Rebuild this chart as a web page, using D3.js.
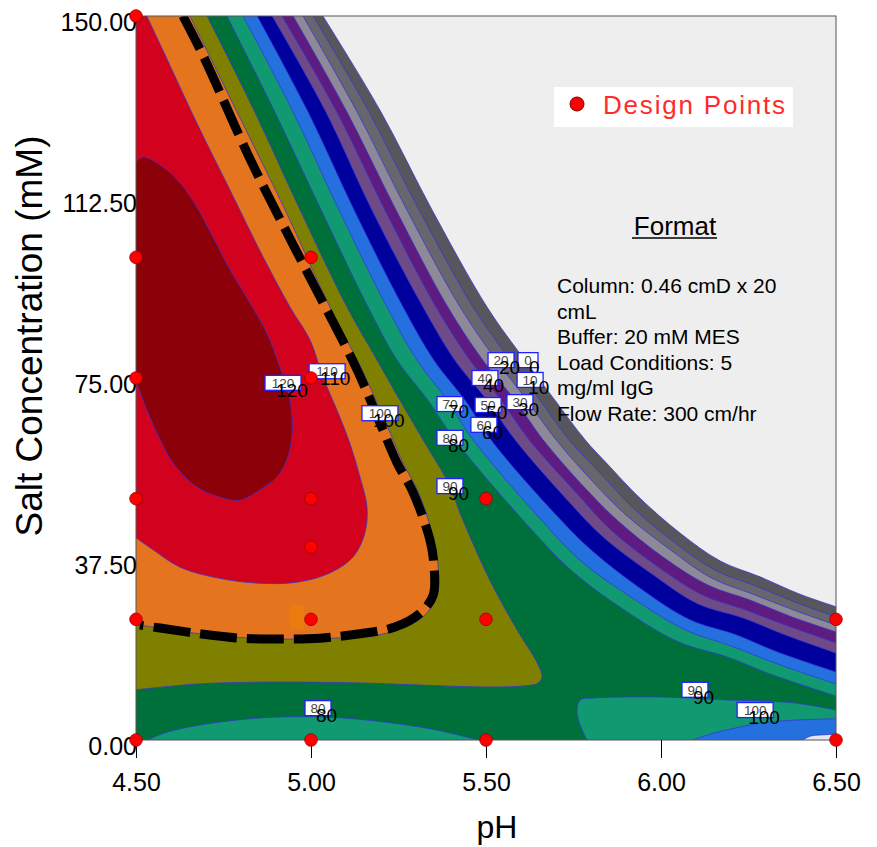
<!DOCTYPE html>
<html>
<head>
<meta charset="utf-8">
<script src="https://cdn.jsdelivr.net/npm/d3@7"></script>
<style>
  body { margin: 0; background: #ffffff; }
  text { font-family: Arial, "Liberation Sans", sans-serif; }
</style>
</head>
<body>
<svg id="chart" width="877" height="847"></svg>
<script>
// ---- axes ----
const phTicks = [4.5, 5.0, 5.5, 6.0, 6.5];
const saltTicks = [0, 37.5, 75, 112.5, 150];

// ---- design points (pH, salt mM) ----
const designPH   = [4.5, 4.5, 4.5, 4.5, 4.5, 4.5, 5.0, 5.0, 5.0, 5.0, 5.0, 5.0, 5.5, 5.5, 5.5, 6.5, 6.5];
const designSalt = [0,   25,  50,  75,  100, 150, 0,   25,  40,  50,  75,  100, 0,   25,  50,  0,   25];

// ---- contour lines of the binding response, as [pH, salt] ----
const level0 = [[5.034,150],[5.197,130.5],[5.346,109.8],[5.503,89.7],[5.611,78.7],[5.697,70.4],[5.783,62.2],[5.849,57.0],[5.94,50.1],[6.054,42.9],[6.169,37.1],[6.283,33.8],[6.397,30.2],[6.5,27.6]];
const level10 = [[5.006,150],[5.163,130.5],[5.309,109.8],[5.463,89.7],[5.569,78.7],[5.654,70.4],[5.737,62.2],[5.826,55.3],[5.917,48.3],[6.037,41.0],[6.154,35.2],[6.271,31.9],[6.389,28.4],[6.5,25.5]];
const level20 = [[4.977,150],[5.129,130.5],[5.274,109.8],[5.426,89.7],[5.529,78.7],[5.617,70.4],[5.7,62.2],[5.803,53.7],[5.897,46.8],[6.023,39.6],[6.143,33.6],[6.263,30.2],[6.38,26.9],[6.5,23.8]];
const level30 = [[4.949,150],[5.1,130.5],[5.243,109.8],[5.391,89.7],[5.491,78.7],[5.583,70.4],[5.663,62.2],[5.783,52.2],[5.88,45.2],[6.006,37.9],[6.134,32.1],[6.254,29.0],[6.374,25.5],[6.5,22.4]];
const level40 = [[4.917,150],[5.071,130.5],[5.211,109.8],[5.357,89.7],[5.454,78.7],[5.543,70.4],[5.623,62.2],[5.763,50.8],[5.857,43.5],[5.989,36.0],[6.12,30.0],[6.243,26.9],[6.363,23.6],[6.5,20.1]];
const level50 = [[4.889,150],[5.04,130.5],[5.174,109.8],[5.32,89.7],[5.411,78.7],[5.503,70.4],[5.583,62.2],[5.74,49.1],[5.837,41.9],[5.974,34.4],[6.106,28.2],[6.234,25.3],[6.354,21.8],[6.5,18.0]];
const level60 = [[4.846,150],[4.989,130.5],[5.123,109.8],[5.263,89.7],[5.351,78.7],[5.44,70.4],[5.514,62.2],[5.703,46.4],[5.803,39.2],[5.943,31.3],[6.083,24.9],[6.214,21.8],[6.334,18.2],[6.5,14.1]];
const level70 = [[4.806,150],[4.946,130.5],[5.08,109.8],[5.217,89.7],[5.303,78.7],[5.389,70.4],[5.463,62.2],[5.674,44.3],[5.774,36.9],[5.923,29.2],[6.069,22.8],[6.2,19.5],[6.323,16.0],[6.5,11.6]];
const level80 = [[4.76,150],[4.894,130.5],[5.029,109.8],[5.163,89.7],[5.246,78.7],[5.334,70.4],[5.411,62.2],[5.646,42.3],[5.749,34.8],[5.9,26.7],[6.051,20.3],[6.189,17.2],[6.311,13.7],[6.5,9.1]];
const level90 = [[4.703,150],[4.837,130.5],[4.969,109.8],[5.103,89.7],[5.189,78.7],[5.254,70.4],[5.32,62.2],[5.397,52.6],[5.426,47.0],[5.511,33.1],[5.589,22.8],[5.646,16.0],[5.66,13.1],[5.649,11.8],[5.606,11.2],[5.483,11.0],[5.311,11.4],[5.149,11.8],[4.863,12.0],[4.674,11.6],[4.5,10.4]];
const level100 = [[4.654,150],[4.786,130.5],[4.926,109.8],[5.054,89.7],[5.143,77.1],[5.214,65.7],[5.263,57.4],[5.309,51.0],[5.351,41.4],[5.363,36.3],[5.36,30.0],[5.323,25.7],[5.254,23.0],[5.169,21.5],[5.054,21.1],[4.94,20.9],[4.826,21.1],[4.711,21.8],[4.597,22.8],[4.5,24.0]];
const level110 = [[4.531,150],[4.577,142.9],[4.674,127.8],[4.769,113.9],[4.863,100.1],[4.94,89.7],[4.997,82.9],[5.034,75.2],[5.074,68.4],[5.111,61.5],[5.14,54.5],[5.16,48.3],[5.154,42.9],[5.12,37.9],[5.054,34.6],[4.96,32.7],[4.846,32.5],[4.731,33.6],[4.626,35.8],[4.549,39.4],[4.5,41.9]];
const level120 = [[4.5,119.8],[4.52,120.8],[4.577,118.7],[4.626,115.4],[4.674,110.4],[4.72,104.2],[4.769,97.4],[4.826,90.5],[4.874,84.3],[4.911,77.3],[4.94,70.4],[4.946,63.6],[4.931,58.0],[4.903,54.5],[4.854,51.8],[4.797,49.7],[4.74,50.3],[4.674,52.4],[4.606,57.4],[4.56,63.6],[4.52,70.4],[4.5,74.6]];
// low-salt pockets along the bottom edge
const lowDome80  = [[4.534,0],[4.583,1.5],[4.683,3.1],[4.826,4.4],[4.94,4.8],[5.083,4.6],[5.254,3.3],[5.369,1.9],[5.477,0]];
const rightRise90  = [[5.789,0],[5.769,3.1],[5.76,6.2],[5.769,8.3],[5.806,8.7],[5.997,8.9],[6.189,8.3],[6.377,7.7],[6.5,6.2]];
const rightRise100 = [[6.091,0],[6.14,1.2],[6.189,2.1],[6.283,3.5],[6.377,4.1],[6.5,4.4]];
const rightRise110 = [[6.406,0],[6.426,0.8],[6.469,1.1],[6.5,1.2]];
// second model's 100 contour (dashed)
const dashed100 = [[4.634,150],[4.691,141.9],[4.831,119.6],[4.983,97.8],[5.129,77.1],[5.197,65.7],[5.246,57.4],[5.291,51.4],[5.34,41.4],[5.351,36.3],[5.349,30.0],[5.309,26.1],[5.24,23.4],[5.14,22.0],[5.026,21.1],[4.911,20.9],[4.797,21.1],[4.683,22.0],[4.569,23.2],[4.511,23.8]];

// contour labels: text, pH, salt
const labelText = ["0","10","20","30","40","50","60","70","80","90","100","110","120","80","90","100"];
const labelPH   = [5.62,5.626,5.543,5.597,5.497,5.506,5.494,5.397,5.397,5.397,5.197,5.046,4.92,5.02,6.097,6.269];
const labelSalt = [78.7,74.6,78.7,70.0,75.0,69.4,65.3,69.6,62.6,52.6,67.7,76.4,74.0,6.6,10.4,6.2];

const infoLines = ["Column: 0.46 cmD x 20", "cmL", "Buffer: 20 mM MES", "Load Conditions: 5", "mg/ml IgG", "Flow Rate: 300 cm/hr"];

// ---- layout ----
const svg = d3.select("#chart");
const x = d3.scaleLinear().domain([4.5, 6.5]).range([136, 836]);
const y = d3.scaleLinear().domain([0, 150]).range([740, 16]);
const [x0, x1] = x.domain(), [y0, y1] = y.domain();

const defs = svg.append("defs");
defs.append("clipPath").attr("id", "plotClip").append("rect")
  .attr("x", x(x0)).attr("y", y(y1)).attr("width", x(x1) - x(x0)).attr("height", y(y0) - y(y1));

const plot = svg.append("g").attr("clip-path", "url(#plotClip)");
plot.append("rect").attr("x", x(x0)).attr("y", y(y1))
  .attr("width", x(x1) - x(x0)).attr("height", y(y0) - y(y1)).attr("fill", "#eeeeee");

const curve = d3.line().x(d => x(d[0])).y(d => y(d[1])).curve(d3.curveCatmullRom.alpha(0.5));

// corners used to close each filled region
const closeRightBottomLeft = [[x1, y0], [x0, y0], [x0, y1]];
const closeTopLeft = [[x0, y1]];
const closeBottomRight = [[x1, y0]];
const closeNone = [];

const regions = [
  { pts: level0,   fill: "#57565c", close: closeRightBottomLeft },
  { pts: level10,  fill: "#67656e", close: closeRightBottomLeft },
  { pts: level20,  fill: "#8d8997", close: closeRightBottomLeft },
  { pts: level30,  fill: "#5e1b80", close: closeRightBottomLeft },
  { pts: level40,  fill: "#6e4b86", close: closeRightBottomLeft },
  { pts: level50,  fill: "#00009c", close: closeRightBottomLeft },
  { pts: level60,  fill: "#2370de", close: closeRightBottomLeft },
  { pts: level70,  fill: "#119a72", close: closeRightBottomLeft },
  { pts: level80,  fill: "#00703a", close: closeRightBottomLeft },
  { pts: lowDome80, fill: "#119a72", close: closeNone },
  { pts: level90,  fill: "#808000", close: closeTopLeft },
  { pts: rightRise90,  fill: "#119a72", close: closeBottomRight },
  { pts: rightRise100, fill: "#2370de", close: closeBottomRight },
  { pts: rightRise110, fill: "#e6e6f2", close: closeBottomRight },
  { pts: level100, fill: "#e5741f", close: closeTopLeft },
  { pts: level110, fill: "#d2011d", close: closeTopLeft },
  { pts: level120, fill: "#8b0009", close: closeNone }
];

regions.forEach(r => {
  const d = curve(r.pts) + r.close.map(c => `L${x(c[0])},${y(c[1])}`).join("") + "Z";
  plot.append("path").attr("d", d).attr("fill", r.fill);
});
regions.forEach(r => {
  plot.append("path").attr("d", curve(r.pts)).attr("fill", "none")
    .attr("stroke", "#3434d6").attr("stroke-width", 0.9).attr("stroke-opacity", 0.85);
});

// small marker near the (5.0, 25) run
plot.append("rect").attr("x", x(4.94)).attr("y", y(28)).attr("width", x(4.98) - x(4.94)).attr("height", y(23) - y(28))
  .attr("fill", "#e97c0c");

// dashed contour
plot.append("path").attr("d", curve(dashed100)).attr("fill", "none")
  .attr("stroke", "#000").attr("stroke-width", 9).attr("stroke-dasharray", "37,10");

// contour labels: boxed small value with a larger value drawn over it
const lab = svg.append("g");
labelText.forEach((t, i) => {
  const cx = x(labelPH[i]), cy = y(labelSalt[i]);
  const w = t.length === 1 ? 20 : (t.length === 2 ? 26 : 36), h = 15;
  lab.append("rect").attr("x", cx - w / 2).attr("y", cy - h / 2).attr("width", w).attr("height", h)
    .attr("fill", "#fff").attr("stroke", "#1f1fff").attr("stroke-width", 1.3);
  lab.append("text").attr("x", cx).attr("y", cy + 5).attr("text-anchor", "middle")
    .attr("font-size", 13.5).attr("fill", "#444").text(t);
  lab.append("text").attr("x", cx - w / 2 + 11).attr("y", cy + 14).attr("font-size", 19)
    .attr("fill", "#000").text(t);
});

// frame
svg.append("rect").attr("x", x(x0)).attr("y", y(y1)).attr("width", x(x1) - x(x0)).attr("height", y(y0) - y(y1))
  .attr("fill", "none").attr("stroke", "#555").attr("stroke-width", 1);

// axes
const xAxis = svg.append("g").attr("transform", `translate(0,${y(y0)})`)
  .call(d3.axisBottom(x).tickValues(phTicks).tickFormat(d3.format(".2f")).tickSize(18).tickPadding(15));
xAxis.select(".domain").remove();
xAxis.selectAll("text").attr("font-size", 25).attr("font-family", "Arial, 'Liberation Sans', sans-serif").attr("fill", "#000");
xAxis.selectAll("line").attr("stroke", "#000");

const yAxis = svg.append("g").attr("transform", `translate(${x(x0)},0)`)
  .call(d3.axisLeft(y).tickValues(saltTicks).tickFormat(d3.format(".2f")).tickSize(0).tickPadding(-1));
yAxis.select(".domain").remove();
yAxis.selectAll("text").attr("font-size", 25).attr("dy", "0.58em")
  .attr("font-family", "Arial, 'Liberation Sans', sans-serif").attr("fill", "#000");

svg.append("text").attr("x", 497).attr("y", 838).attr("text-anchor", "middle")
  .attr("font-size", 32).text("pH");
svg.append("text").attr("transform", "translate(42,336) rotate(-90)").attr("text-anchor", "middle")
  .attr("font-size", 37).text("Salt Concentration (mM)");

// design points
svg.append("g").selectAll("circle").data(designPH.map((p, i) => [p, designSalt[i]])).join("circle")
  .attr("cx", d => x(d[0])).attr("cy", d => y(d[1])).attr("r", 6.3)
  .attr("fill", "#ff0000").attr("stroke", "#9a0000").attr("stroke-width", 0.8);

// legend
svg.append("rect").attr("x", 554).attr("y", 87).attr("width", 239).attr("height", 40).attr("fill", "#fff");
svg.append("circle").attr("cx", 577).attr("cy", 104).attr("r", 7).attr("fill", "#ff0000").attr("stroke", "#7a0000").attr("stroke-width", 1);
svg.append("text").attr("x", 603).attr("y", 114).attr("font-size", 26).attr("fill", "#ff2b2b")
  .attr("textLength", 182).text("Design Points");

// run conditions
svg.append("text").attr("x", 675).attr("y", 235).attr("text-anchor", "middle").attr("font-size", 26).text("Format");
svg.append("line").attr("x1", 632).attr("x2", 717).attr("y1", 238).attr("y2", 238).attr("stroke", "#000").attr("stroke-width", 1.5);
infoLines.forEach((t, i) => {
  svg.append("text").attr("x", 557).attr("y", 293 + i * 25.6).attr("font-size", 21).text(t);
});
</script>
</body>
</html>
